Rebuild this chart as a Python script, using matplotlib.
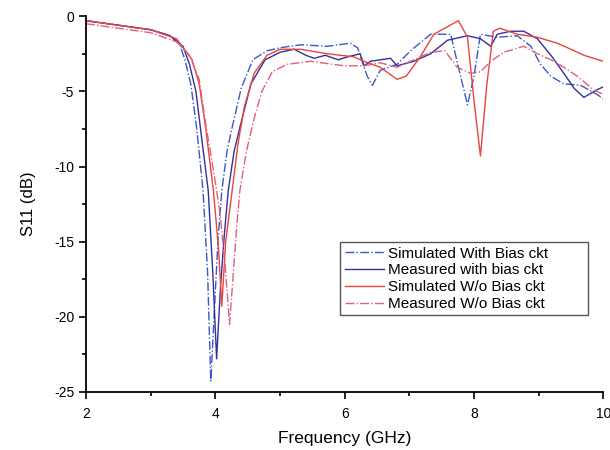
import numpy as np
import matplotlib
matplotlib.use('Agg')
from matplotlib import pyplot as plt
from matplotlib.ticker import MultipleLocator

plt.rcParams['font.family'] = ['Liberation Sans', 'DejaVu Sans']
plt.rcParams['axes.unicode_minus'] = False

# Simulated With Bias ckt
f_sim_bias = [2.0, 2.5, 3.0, 3.3, 3.45, 3.53, 3.62, 3.71, 3.81, 3.88, 3.93, 3.98, 4.04, 4.1, 4.18,
              4.26, 4.4, 4.58, 4.8, 5.0, 5.32, 5.73, 6.09, 6.2, 6.35, 6.43, 6.55, 6.81, 7.02,
              7.33, 7.64, 7.76, 7.9, 8.0, 8.1, 8.36, 8.67, 8.88, 9.03, 9.19, 9.39, 9.65, 9.9, 10.0]
s_sim_bias = [-0.3, -0.6, -0.9, -1.3, -1.9, -2.9, -4.5, -7.4, -11.6, -17.0, -24.3, -20.0, -15.0,
              -11.6, -9.0, -7.4, -4.8, -2.9, -2.3, -2.1, -1.9, -2.0, -1.8, -2.1, -4.0, -4.6, -3.6,
              -3.2, -2.3, -1.2, -1.2, -3.4, -5.9, -4.0, -1.2, -1.4, -1.3, -2.0, -3.2, -4.0, -4.5,
              -4.6, -5.2, -5.5]

# Measured with bias ckt
f_meas_bias = [2.0, 2.5, 3.0, 3.3, 3.5, 3.6, 3.7, 3.8, 3.89, 3.96, 4.02, 4.08, 4.14, 4.2, 4.29,
               4.38, 4.55, 4.77, 5.0, 5.22, 5.4, 5.53, 5.7, 5.9, 6.05, 6.24, 6.3, 6.4, 6.55, 6.71,
               6.81, 7.07, 7.33, 7.59, 7.9, 8.1, 8.26, 8.36, 8.57, 8.77, 8.98, 9.19, 9.39, 9.55,
               9.7, 9.9, 10.0]
s_meas_bias = [-0.3, -0.6, -0.9, -1.3, -2.0, -3.2, -5.0, -8.5, -11.6, -17.0, -22.8, -18.0, -14.5,
               -11.6, -9.0, -7.4, -4.5, -2.9, -2.4, -2.2, -2.6, -2.8, -2.6, -2.9, -2.7, -2.5, -3.3,
               -3.0, -2.9, -2.8, -3.3, -3.0, -2.5, -1.6, -1.3, -1.5, -2.0, -1.2, -1.0, -1.0, -1.5,
               -2.6, -3.8, -4.8, -5.4, -4.9, -4.7]

# Simulated W/o Bias ckt
f_sim_nobias = [2.0, 2.5, 3.0, 3.4, 3.64, 3.75, 3.85, 3.97, 4.05, 4.1, 4.16, 4.26, 4.35, 4.45,
                4.6, 4.8, 5.0, 5.32, 5.73, 6.14, 6.3, 6.55, 6.81, 6.95, 7.17, 7.38, 7.59, 7.76,
                7.9, 8.0, 8.1, 8.2, 8.3, 8.4, 8.67, 8.98, 9.29, 9.5, 9.7, 10.0]
s_sim_nobias = [-0.3, -0.6, -0.9, -1.5, -2.9, -4.5, -7.4, -11.6, -15.5, -19.3, -15.0, -11.6, -8.5,
                -6.0, -3.8, -2.6, -2.2, -2.2, -2.5, -2.7, -3.0, -3.4, -4.2, -4.0, -2.7, -1.2, -0.7,
                -0.3, -1.4, -5.6, -9.3, -4.5, -1.0, -0.8, -1.2, -1.4, -1.8, -2.2, -2.6, -3.0]

# Measured W/o Bias ckt
f_meas_nobias = [2.0, 2.5, 3.0, 3.4, 3.6, 3.75, 3.86, 3.98, 4.07, 4.15, 4.22, 4.28, 4.33, 4.38,
                 4.48, 4.6, 4.72, 4.88, 5.11, 5.47, 5.99, 6.3, 6.55, 6.81, 7.07, 7.33, 7.55, 7.74,
                 7.95, 8.1, 8.26, 8.46, 8.77, 8.98, 9.19, 9.39, 9.6, 9.85, 10.0]
s_meas_nobias = [-0.5, -0.8, -1.1, -1.7, -2.6, -4.2, -7.4, -10.5, -13.0, -16.5, -20.5, -17.0, -14.0,
                 -11.6, -9.0, -6.8, -5.0, -3.7, -3.2, -3.0, -3.3, -3.3, -3.1, -3.4, -2.9, -2.4,
                 -2.3, -3.4, -3.8, -3.7, -3.0, -2.4, -2.0, -2.5, -2.9, -3.4, -4.0, -4.9, -5.2]

fig = plt.figure(figsize=(6.1, 4.5), dpi=100)
ax = fig.add_axes([0.141, 0.129, 0.848, 0.835])

ax.plot(f_sim_bias, s_sim_bias, color='#3b57c9', ls='-.', lw=1.0, label='Simulated With Bias ckt')
ax.plot(f_meas_bias, s_meas_bias, color='#35309a', ls='-', lw=1.0, label='Measured with bias ckt')
ax.plot(f_sim_nobias, s_sim_nobias, color='#e8453c', ls='-', lw=1.0, label='Simulated W/o Bias ckt')
ax.plot(f_meas_nobias, s_meas_nobias, color='#e0607a', ls='-.', lw=1.0, label='Measured W/o Bias ckt')

ax.set_xlim(2, 10)
ax.set_ylim(-25, 0)
ax.xaxis.set_major_locator(MultipleLocator(2))
ax.xaxis.set_minor_locator(MultipleLocator(1))
ax.yaxis.set_major_locator(MultipleLocator(5))
ax.yaxis.set_minor_locator(MultipleLocator(2.5))
ax.tick_params(which='major', direction='out', length=5, width=1.2, labelsize=10)
ax.tick_params(which='minor', direction='out', length=3, width=1.2)
ax.tick_params(axis='x', which='major', pad=6)
for side in ['top', 'right']:
    ax.spines[side].set_visible(False)
for side in ['left', 'bottom']:
    ax.spines[side].set_linewidth(1.3)

ax.set_xlabel('Frequency (GHz)', fontsize=12.5, labelpad=7)
ax.set_ylabel('S11 (dB)', fontsize=12, labelpad=13)

# legend box spans a fixed width, top edge at 0.399 of the axes height
leg = ax.legend(loc='upper left', bbox_to_anchor=(0.491, 0.199, 0.48, 0.2), mode='expand',
                borderaxespad=0, fontsize=11, fancybox=False, framealpha=1,
                edgecolor='#555555', handlelength=2.6, borderpad=0.3,
                labelspacing=0.18, handletextpad=0.25)

fig.savefig('out.png', dpi=100)
